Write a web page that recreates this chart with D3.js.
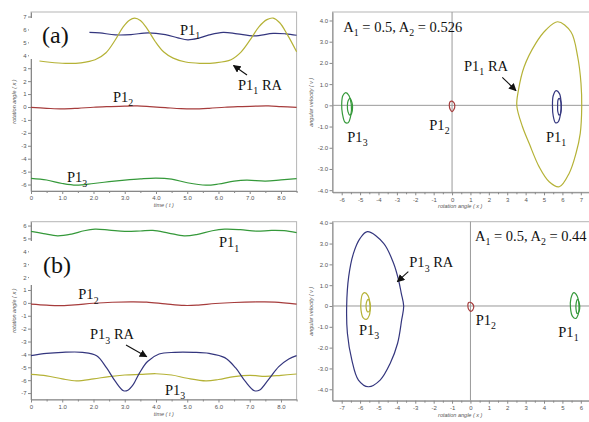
<!DOCTYPE html>
<html>
<head>
<meta charset="utf-8">
<script src="https://cdn.jsdelivr.net/npm/d3@7"></script>
<style>
  body { margin: 0; background: #fff; }
  svg { display: block; }
  .tick text { font-family: "Liberation Sans", Arial, sans-serif; font-size: 6px; fill: #555; }
  .tick line { stroke: #888; }
  .ann { font-family: "Liberation Serif", "Times New Roman", serif; fill: #111; }
  .atitle { font-family: "Liberation Sans", Arial, sans-serif; font-size: 5.5px; font-style: italic; fill: #555; }
</style>
</head>
<body>
<svg id="fig" width="589" height="422"></svg>
<script>
// ---------- tick values ----------
const timeTicks = [0, 1, 2, 3, 4, 5, 6, 7, 8];
const angleTicksA = [-6, -5, -4, -3, -2, -1, 0, 1, 2, 3, 4, 5, 6, 7];
const angleTicksB = [-7, -6, -5, -4, -3, -2, -1, 0, 1, 2, 3, 4, 5, 6];
const phaseXTicksA = [-6, -5, -4, -3, -2, -1, 0, 1, 2, 3, 4, 5, 6, 7];
const phaseXTicksB = [-7, -6, -5, -4, -3, -2, -1, 0, 1, 2, 3, 4, 5, 6];
const velocityTicks = [-4, -3, -2, -1, 0, 1, 2, 3, 4];

// ---------- (a) time histories [t, x] ----------
const a_P1_1 = [[1.87,5.78],[2.2,5.73],[2.7,5.58],[3.2,5.6],[3.75,5.74],[4.3,5.6],[4.7,5.35],[5.02,5.2],[5.35,5.32],[5.7,5.58],[6.15,5.78],[6.6,5.66],[7.15,5.5],[7.75,5.7],[8.15,5.66],[8.5,5.55]];
const a_P1_1RA = [[0.27,3.56],[0.6,3.46],[1.1,3.38],[1.6,3.42],[2.05,3.65],[2.4,4.2],[2.7,5.2],[2.95,6.2],[3.15,6.72],[3.32,6.88],[3.5,6.7],[3.72,6.05],[3.98,5.05],[4.25,4.25],[4.55,3.78],[4.95,3.48],[5.4,3.38],[5.9,3.42],[6.4,3.66],[6.72,4.25],[7.03,5.25],[7.3,6.22],[7.55,6.76],[7.75,6.88],[7.96,6.52],[8.2,5.62],[8.5,4.28]];
const a_P1_2 = [[0,-0.03],[0.5,-0.1],[1.0,-0.15],[1.5,-0.1],[2.0,-0.02],[2.5,0.03],[3.0,0.07],[3.4,0.08],[3.8,0.03],[4.3,-0.05],[4.8,-0.13],[5.2,-0.15],[5.7,-0.1],[6.2,-0.02],[6.7,0.03],[7.2,0.07],[7.6,0.08],[8.0,0.03],[8.5,-0.03]];
const a_P1_3 = [[0,-5.52],[0.5,-5.65],[1.0,-5.92],[1.45,-6.05],[2.0,-5.92],[2.5,-5.78],[3.0,-5.66],[3.5,-5.56],[4.0,-5.5],[4.5,-5.58],[5.0,-5.86],[5.6,-6.05],[6.0,-5.96],[6.5,-5.74],[6.9,-5.66],[7.5,-5.73],[8.0,-5.64],[8.5,-5.54]];

// ---------- (b) time histories [t, x] ----------
const b_P1_1 = [[0,5.55],[0.4,5.38],[0.85,5.2],[1.3,5.34],[1.7,5.6],[2.05,5.72],[2.5,5.65],[3.0,5.55],[3.5,5.58],[3.9,5.62],[4.4,5.42],[4.9,5.2],[5.3,5.3],[5.8,5.6],[6.2,5.72],[6.7,5.68],[7.2,5.57],[7.7,5.62],[8.1,5.6],[8.5,5.45]];
const b_P1_2 = [[0,-0.1],[0.5,-0.18],[0.9,-0.22],[1.4,-0.15],[2.0,-0.03],[2.6,0.05],[3.2,0.08],[3.7,0.06],[4.3,-0.08],[4.9,-0.2],[5.3,-0.18],[5.9,-0.05],[6.5,0.03],[7.2,0.07],[7.8,0.06],[8.5,-0.1]];
const b_P1_3RA = [[0,-4.1],[0.5,-3.92],[1.0,-3.84],[1.65,-3.84],[2.1,-4.1],[2.42,-5.05],[2.7,-6.1],[2.96,-6.82],[3.1,-6.78],[3.27,-6.35],[3.47,-5.45],[3.73,-4.55],[4.1,-3.97],[4.6,-3.84],[5.2,-3.84],[5.7,-3.92],[6.2,-4.25],[6.55,-5.05],[6.86,-6.1],[7.15,-6.82],[7.32,-6.76],[7.6,-5.95],[7.93,-4.95],[8.25,-4.35],[8.5,-4.1]];
const b_P1_3 = [[0,-5.55],[0.5,-5.66],[1.0,-5.9],[1.45,-6.05],[2.0,-5.9],[2.5,-5.72],[3.0,-5.6],[3.5,-5.55],[4.0,-5.5],[4.5,-5.6],[5.0,-5.85],[5.6,-6.05],[6.0,-5.95],[6.5,-5.72],[7.0,-5.62],[7.5,-5.7],[8.0,-5.62],[8.5,-5.52]];

// ---------- (a) phase orbits [x, v] ----------
const pa_RA = [[5.74,3.94],[6.46,3.47],[6.83,2.29],[7.01,1.04],[7.05,-0.06],[6.97,-1.32],[6.74,-2.26],[6.37,-3.2],[5.83,-3.84],[5.28,-3.6],[4.73,-2.89],[4.19,-1.79],[3.83,-1.01],[3.52,-0.02],[3.61,0.72],[3.92,1.82],[4.55,2.92],[5.1,3.55]];
const pa_P1_1_outer = [[5.66,0.69],[5.84,0.55],[5.93,0.1],[5.9,-0.4],[5.77,-0.78],[5.62,-0.82],[5.5,-0.5],[5.46,-0.05],[5.5,0.45]];
const pa_P1_1_inner = [[5.82,0.33],[5.92,0.15],[5.94,-0.1],[5.9,-0.38],[5.82,-0.46],[5.75,-0.3],[5.74,0.0],[5.76,0.25]];
const pa_P1_3_outer = [[-5.78,0.6],[-5.6,0.45],[-5.48,0.05],[-5.5,-0.45],[-5.65,-0.82],[-5.82,-0.8],[-5.96,-0.4],[-6.0,0.05],[-5.94,0.45]];
const pa_P1_3_inner = [[-5.55,0.33],[-5.44,0.12],[-5.41,-0.1],[-5.46,-0.38],[-5.56,-0.46],[-5.66,-0.3],[-5.69,0.0],[-5.65,0.22]];
const pa_P1_2 = [[-0.05,0.2],[0.08,0.15],[0.15,0.0],[0.1,-0.2],[0.0,-0.3],[-0.1,-0.2],[-0.15,0.0],[-0.12,0.15]];

// ---------- (b) phase orbits [x, v] ----------
const pb_RA = [[-5.6,3.57],[-4.72,3.01],[-4.18,2.05],[-3.91,1.25],[-3.76,0.61],[-3.63,0.0],[-3.74,-0.67],[-3.96,-1.79],[-4.36,-2.75],[-4.91,-3.56],[-5.55,-3.88],[-6.09,-3.56],[-6.45,-2.59],[-6.69,-1.31],[-6.73,0.0],[-6.62,1.41],[-6.36,2.53],[-6.0,3.25]];
const pb_P1_3_outer = [[-5.75,0.64],[-5.57,0.5],[-5.46,0.05],[-5.5,-0.45],[-5.66,-0.64],[-5.84,-0.56],[-5.95,-0.2],[-5.95,0.25],[-5.88,0.55]];
const pb_P1_3_inner = [[-5.56,0.32],[-5.46,0.12],[-5.44,-0.1],[-5.5,-0.26],[-5.6,-0.28],[-5.67,-0.1],[-5.66,0.15]];
const pb_P1_2 = [[-0.06,0.18],[0.1,0.12],[0.18,-0.02],[0.12,-0.2],[0.02,-0.26],[-0.1,-0.16],[-0.14,0.02],[-0.12,0.14]];
const pb_P1_1_outer = [[5.62,0.64],[5.8,0.48],[5.9,0.05],[5.86,-0.4],[5.72,-0.6],[5.55,-0.5],[5.44,-0.1],[5.46,0.35]];
const pb_P1_1_inner = [[5.82,0.32],[5.92,0.12],[5.94,-0.12],[5.88,-0.32],[5.8,-0.36],[5.74,-0.15],[5.75,0.15]];

// ---------- colours ----------
const BLUE = "#34367e", YELLOW = "#b5b236", RED = "#a63c3c", GREEN = "#35993a";

const svg = d3.select("#fig");
const defs = svg.append("defs");
defs.append("marker").attr("id", "arr").attr("viewBox", "0 0 10 10")
  .attr("refX", 9).attr("refY", 5).attr("markerWidth", 7).attr("markerHeight", 7)
  .attr("orient", "auto-start-reverse")
  .append("path").attr("d", "M0,0 L10,5 L0,10 z").attr("fill", "#111");

const fmtTime = d => d === 0 ? "0" : d.toFixed(1);
const fmtInt = d => String(d);
const fmtVel = d => d === 0 ? "0" : d.toFixed(1);

function panel(cfg) {
  const g = svg.append("g");
  const x = d3.scaleLinear().domain(cfg.xDom).range(cfg.xRange);
  const y = d3.scaleLinear().domain(cfg.yDom).range(cfg.yRange);
  const [xl, xr] = cfg.xRange, [yb, yt] = cfg.yRange;

  // frame
  g.append("rect").attr("x", xl).attr("y", yt).attr("width", xr - xl).attr("height", yb - yt)
    .attr("fill", "none").attr("stroke", "#b5b5b5").attr("stroke-width", 1);

  // minor x ticks
  const minor = cfg.xTicks.slice(0, -1).map(d => d + 0.5).concat([cfg.xTicks[cfg.xTicks.length - 1] + 0.5])
    .filter(d => d <= cfg.xDom[1] && d >= cfg.xDom[0]);
  g.append("g").attr("transform", `translate(0,${yb})`)
    .call(d3.axisBottom(x).tickValues(minor).tickFormat("").tickSize(2).tickSizeOuter(0))
    .call(s => s.select(".domain").remove());

  // major axes
  g.append("g").attr("transform", `translate(0,${yb})`)
    .call(d3.axisBottom(x).tickValues(cfg.xTicks).tickFormat(cfg.xFmt).tickSize(3).tickPadding(2).tickSizeOuter(0))
    .call(s => s.select(".domain").attr("stroke", "#888"));
  g.append("g").attr("transform", `translate(${xl},0)`)
    .call(d3.axisLeft(y).tickValues(cfg.yTicks).tickFormat(cfg.yFmt).tickSize(3).tickPadding(1.5).tickSizeOuter(0))
    .call(s => s.select(".domain").attr("stroke", "#888"));

  // zero cross lines in the phase plane
  if (cfg.cross) {
    g.append("line").attr("x1", xl).attr("x2", xr).attr("y1", y(0)).attr("y2", y(0))
      .attr("stroke", "#999").attr("stroke-width", 1);
    g.append("line").attr("x1", x(0)).attr("x2", x(0)).attr("y1", yt).attr("y2", yb)
      .attr("stroke", "#999").attr("stroke-width", 1);
  }

  // axis titles
  g.append("text").attr("class", "atitle").attr("text-anchor", "middle")
    .attr("x", (xl + xr) / 2 + cfg.xTitleDx).attr("y", yb + 16).text(cfg.xTitle);
  g.append("text").attr("class", "atitle").attr("text-anchor", "middle")
    .attr("transform", `translate(${cfg.yTitleX},${(yb + yt) / 2}) rotate(-90)`).text(cfg.yTitle);

  const open = d3.line().x(d => x(d[0])).y(d => y(d[1])).curve(d3.curveCatmullRom.alpha(0.5));
  const closed = d3.line().x(d => x(d[0])).y(d => y(d[1])).curve(d3.curveCatmullRomClosed.alpha(0.5));
  cfg.series.forEach(s => {
    g.append("path").attr("d", (s.closed ? closed : open)(s.data))
      .attr("fill", "none").attr("stroke", s.color).attr("stroke-width", 1.2);
  });
  return g;
}

function label(g, x, y, parts, size) {
  const t = g.append("text").attr("class", "ann").attr("x", x).attr("y", y).attr("font-size", size);
  let shift = 0;
  parts.forEach(([s, sub]) => {
    const want = sub ? size * 0.3 : 0;
    t.append("tspan").attr("dy", want - shift).attr("font-size", sub ? size * 0.68 : size).text(s);
    shift = want;
  });
}
function arrow(g, x1, y1, x2, y2) {
  g.append("line").attr("x1", x1).attr("y1", y1).attr("x2", x2).attr("y2", y2)
    .attr("stroke", "#111").attr("stroke-width", 1.1).attr("marker-end", "url(#arr)");
}
function tag(g, x, y, w, h, txt, bx, by) {
  g.append("rect").attr("x", x).attr("y", y).attr("width", w).attr("height", h).attr("fill", "#fff");
  g.append("text").attr("class", "ann").attr("x", bx).attr("y", by).attr("font-size", 24).text(txt);
}

const FS = 14.5;

// ---------- (a) time history ----------
const gA = panel({
  xDom: [0, 8.5], xRange: [31, 296.6], yDom: [-6.5, 7.35], yRange: [191, 12],
  xTicks: timeTicks, yTicks: angleTicksA, xFmt: fmtTime, yFmt: fmtInt,
  xTitle: "time ( t )", yTitle: "rotation angle ( x )", xTitleDx: 0, yTitleX: 16,
  series: [
    { data: a_P1_2, color: RED }, { data: a_P1_3, color: GREEN },
    { data: a_P1_1, color: BLUE }, { data: a_P1_1RA, color: YELLOW }
  ]
});
tag(gA, 29, 18, 60, 41, "(a)", 42, 42.5);
label(gA, 180, 34.5, [["P1"], ["1", true]], FS);
label(gA, 238, 89.5, [["P1"], ["1", true], [" RA"]], FS);
arrow(gA, 247, 75, 233.5, 65.5);
label(gA, 113, 102, [["P1"], ["2", true]], FS);
label(gA, 67, 182.3, [["P1"], ["3", true]], FS);

// ---------- (a) phase plane ----------
const gA2 = panel({
  xDom: [-6.5, 7.5], xRange: [332.5, 590], yDom: [-4.1, 4.4], yRange: [192.3, 12],
  xTicks: phaseXTicksA, yTicks: velocityTicks, xFmt: fmtInt, yFmt: fmtVel, cross: true,
  xTitle: "rotation angle ( x )", yTitle: "angular velocity ( v )", xTitleDx: -1, yTitleX: 313,
  series: [
    { data: pa_RA, color: YELLOW, closed: true },
    { data: pa_P1_1_outer, color: BLUE, closed: true }, { data: pa_P1_1_inner, color: BLUE, closed: true },
    { data: pa_P1_3_outer, color: GREEN, closed: true }, { data: pa_P1_3_inner, color: GREEN, closed: true },
    { data: pa_P1_2, color: RED, closed: true }
  ]
});
label(gA2, 343.3, 31.7, [["A"], ["1", true], [" = 0.5, A"], ["2", true], [" = 0.526"]], FS);
label(gA2, 464, 70.7, [["P1"], ["1", true], [" RA"]], FS);
arrow(gA2, 502.3, 77.3, 516, 90.7);
label(gA2, 429.3, 130, [["P1"], ["2", true]], FS);
label(gA2, 347.3, 141.7, [["P1"], ["3", true]], FS);
label(gA2, 546, 141.7, [["P1"], ["1", true]], FS);

// ---------- (b) time history ----------
const gB = panel({
  xDom: [0, 8.5], xRange: [31, 296.6], yDom: [-7.5, 6.3], yRange: [399.5, 221.7],
  xTicks: timeTicks, yTicks: angleTicksB, xFmt: fmtTime, yFmt: fmtInt,
  xTitle: "time ( t )", yTitle: "rotation angle ( x )", xTitleDx: 0, yTitleX: 16,
  series: [
    { data: b_P1_2, color: RED }, { data: b_P1_1, color: GREEN },
    { data: b_P1_3, color: YELLOW }, { data: b_P1_3RA, color: BLUE }
  ]
});
tag(gB, 29, 241, 60, 44, "(b)", 43, 273.3);
label(gB, 219, 247.3, [["P1"], ["1", true]], FS);
label(gB, 78.3, 299.3, [["P1"], ["2", true]], FS);
label(gB, 90, 339.3, [["P1"], ["3", true], [" RA"]], FS);
arrow(gB, 126, 345, 146.7, 356.7);
label(gB, 165, 395, [["P1"], ["3", true]], FS);

// ---------- (b) phase plane ----------
const gB2 = panel({
  xDom: [-7.5, 6.5], xRange: [332.5, 590], yDom: [-4.55, 4.05], yRange: [400.7, 221.7],
  xTicks: phaseXTicksB, yTicks: velocityTicks, xFmt: fmtInt, yFmt: fmtVel, cross: true,
  xTitle: "rotation angle ( x )", yTitle: "angular velocity ( v )", xTitleDx: -1, yTitleX: 313,
  series: [
    { data: pb_RA, color: BLUE, closed: true },
    { data: pb_P1_3_outer, color: YELLOW, closed: true }, { data: pb_P1_3_inner, color: YELLOW, closed: true },
    { data: pb_P1_2, color: RED, closed: true },
    { data: pb_P1_1_outer, color: GREEN, closed: true }, { data: pb_P1_1_inner, color: GREEN, closed: true }
  ]
});
label(gB2, 475, 241, [["A"], ["1", true], [" = 0.5, A"], ["2", true], [" = 0.44"]], FS);
label(gB2, 409.3, 267.3, [["P1"], ["3", true], [" RA"]], FS);
arrow(gB2, 408.3, 271.7, 397.3, 281.7);
label(gB2, 359, 335, [["P1"], ["3", true]], FS);
label(gB2, 475.7, 325, [["P1"], ["2", true]], FS);
label(gB2, 558.3, 336.7, [["P1"], ["1", true]], FS);
</script>
</body>
</html>
